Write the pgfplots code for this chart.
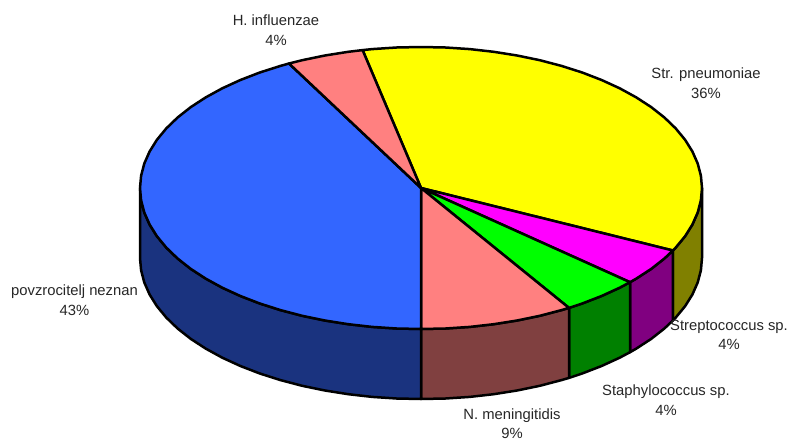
\documentclass[border=0pt]{standalone}
\usepackage{pgfplots}
\pgfplotsset{compat=1.18}
\usepackage{fontspec}
\setmainfont{Liberation Sans}
\definecolor{cYellow}{HTML}{FFFF00}
\definecolor{cMag}{HTML}{FF00FF}
\definecolor{cGreen}{HTML}{00FF00}
\definecolor{cSalmon}{HTML}{FF8080}
\definecolor{cBlue}{HTML}{3366FF}
\definecolor{cOlive}{HTML}{808000}
\definecolor{cPurple}{HTML}{800080}
\definecolor{cDGreen}{HTML}{008000}
\definecolor{cBrown}{HTML}{804040}
\definecolor{cNavy}{HTML}{1A337F}
\begin{document}
\begin{tikzpicture}
\useasboundingbox (0,0) rectangle (788pt,439pt);
\begin{axis}[
  at={(0,0)}, anchor=south west,
  scale only axis, width=788pt, height=439pt,
  xmin=0, xmax=788, ymin=0, ymax=439, y dir=reverse,
  hide axis, clip=false,
  every axis plot/.append style={draw=black, line width=2.5pt, line join=round, mark=none}
]
% side faces
\addplot[fill=cOlive] coordinates {(702,188)(700.9,200.3)(697.7,212.5)(692.4,224.5)(685.1,236.2)(675.7,247.6)(672.9,250.5)(672.9,320.5)(675.7,317.6)(685.1,306.2)(692.4,294.5)(697.7,282.5)(700.9,270.3)(702,258)} -- cycle;
\addplot[fill=cPurple] coordinates {(672.9,250.5)(664.4,258.5)(651.2,268.9)(636.3,278.6)(630,282.2)(630,352.2)(636.3,348.6)(651.2,338.9)(664.4,328.5)(672.9,320.5)} -- cycle;
\addplot[fill=cDGreen] coordinates {(630,282.2)(619.7,287.7)(601.6,296)(582.2,303.5)(569,307.9)(569,377.9)(582.2,373.5)(601.6,366)(619.7,357.7)(630,352.2)} -- cycle;
\addplot[fill=cBrown] coordinates {(569,307.9)(561.5,310.1)(539.8,315.8)(517.1,320.5)(493.7,324.2)(469.8,326.9)(445.5,328.5)(421,329)(421,399)(445.5,398.5)(469.8,396.9)(493.7,394.2)(517.1,390.5)(539.8,385.8)(561.5,380.1)(569,377.9)} -- cycle;
\addplot[fill=cNavy] coordinates {(421,329)(396.5,328.5)(372.2,326.9)(348.3,324.2)(324.9,320.5)(302.2,315.8)(280.5,310.1)(259.8,303.5)(240.4,296)(222.3,287.7)(205.7,278.6)(190.8,268.9)(177.6,258.5)(166.3,247.6)(156.9,236.2)(149.6,224.5)(144.3,212.5)(141.1,200.3)(140,188)(140,258)(141.1,270.3)(144.3,282.5)(149.6,294.5)(156.9,306.2)(166.3,317.6)(177.6,328.5)(190.8,338.9)(205.7,348.6)(222.3,357.7)(240.4,366)(259.8,373.5)(280.5,380.1)(302.2,385.8)(324.9,390.5)(348.3,394.2)(372.2,396.9)(396.5,398.5)(421,399)} -- cycle;
% top faces
\addplot[fill=cYellow] coordinates {(421,188)(362.6,50.1)(372.2,49.1)(396.5,47.5)(421,47)(445.5,47.5)(469.8,49.1)(493.7,51.8)(517.1,55.5)(539.8,60.2)(561.5,65.9)(582.2,72.5)(601.6,80)(619.7,88.3)(636.3,97.4)(651.2,107.1)(664.4,117.5)(675.7,128.4)(685.1,139.8)(692.4,151.5)(697.7,163.5)(700.9,175.7)(702,188)(700.9,200.3)(697.7,212.5)(692.4,224.5)(685.1,236.2)(675.7,247.6)(672.9,250.5)} -- cycle;
\addplot[fill=cMag] coordinates {(421,188)(672.9,250.5)(664.4,258.5)(651.2,268.9)(636.3,278.6)(630,282.2)} -- cycle;
\addplot[fill=cGreen] coordinates {(421,188)(630,282.2)(619.7,287.7)(601.6,296)(582.2,303.5)(569,307.9)} -- cycle;
\addplot[fill=cSalmon] coordinates {(421,188)(569,307.9)(561.5,310.1)(539.8,315.8)(517.1,320.5)(493.7,324.2)(469.8,326.9)(445.5,328.5)(421,329)} -- cycle;
\addplot[fill=cBlue] coordinates {(421,188)(421,329)(396.5,328.5)(372.2,326.9)(348.3,324.2)(324.9,320.5)(302.2,315.8)(280.5,310.1)(259.8,303.5)(240.4,296)(222.3,287.7)(205.7,278.6)(190.8,268.9)(177.6,258.5)(166.3,247.6)(156.9,236.2)(149.6,224.5)(144.3,212.5)(141.1,200.3)(140,188)(141.1,175.7)(144.3,163.5)(149.6,151.5)(156.9,139.8)(166.3,128.4)(177.6,117.5)(190.8,107.1)(205.7,97.4)(222.3,88.3)(240.4,80)(259.8,72.5)(280.5,65.9)(289,63.5)} -- cycle;
\addplot[fill=cSalmon] coordinates {(421,188)(289,63.5)(302.2,60.2)(324.9,55.5)(348.3,51.8)(362.6,50.1)} -- cycle;
% labels
\tikzset{lab/.style={align=center, font=\fontsize{14.8}{19.5}\selectfont, text=black!85, inner sep=0pt}}
\node[lab] at (axis cs:706,83) {Str. pneumoniae\\36\%};
\node[lab] at (axis cs:276,30) {H. influenzae\\4\%};
\node[lab] at (axis cs:512,423.5) {N. meningitidis\\9\%};
\node[lab] at (axis cs:666,400) {Staphylococcus sp.\\4\%};
\node[lab] at (axis cs:729,335) {Streptococcus sp.\\4\%};
\node[lab] at (axis cs:74.5,300) {povzrocitelj neznan\\43\%};
\end{axis}
\end{tikzpicture}
\end{document}
